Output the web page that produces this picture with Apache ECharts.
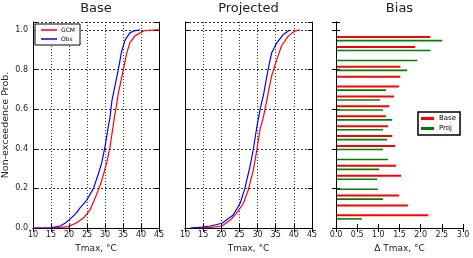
<!DOCTYPE html>
<html><head><meta charset="utf-8">
<script src="https://cdn.jsdelivr.net/npm/echarts@6/dist/echarts.min.js"></script>
<style>html,body{margin:0;padding:0;background:#fff}#c{width:473px;height:258px}</style>
</head><body><div id="c"></div>
<script>
// Empirical CDF readings [Tmax, probability]
const baseGCM = [[10,0],[16,0.001],[19.8,0.007],[22,0.025],[24,0.05],[25.8,0.09],[27.7,0.17],[29.1,0.24],[30.5,0.33],[31.4,0.41],[32.3,0.52],[32.6,0.56],[33.2,0.62],[33.7,0.68],[35.1,0.8],[36,0.88],[36.9,0.935],[38.3,0.97],[39.7,0.985],[41.1,0.997],[44.4,1.0],[45,1.0]];
const baseObs = [[10,0],[15,0.001],[17.5,0.01],[19,0.025],[20.3,0.045],[22,0.075],[23,0.1],[24.9,0.14],[26.8,0.2],[28.1,0.27],[29.1,0.33],[30,0.41],[30.9,0.51],[31.4,0.56],[31.9,0.64],[32.8,0.72],[33.7,0.8],[34.6,0.89],[35.6,0.95],[36.9,0.985],[38,0.995],[39.7,1.0]];
const projGCM = [[11.6,0],[17,0.003],[20.2,0.01],[22.5,0.04],[24.2,0.074],[26.1,0.125],[27.4,0.19],[28.8,0.29],[29.8,0.395],[30.7,0.5],[31.6,0.56],[32.5,0.64],[32.9,0.68],[33.9,0.77],[35.3,0.85],[36.6,0.92],[38.5,0.97],[40.3,0.995],[41.7,1.0]];
const projObs = [[11.6,0],[14.7,0.005],[17,0.01],[20.2,0.024],[23.3,0.066],[25.2,0.125],[26.5,0.2],[27.9,0.31],[28.8,0.395],[29.8,0.51],[30.7,0.6],[31.6,0.67],[32.9,0.8],[33.9,0.885],[35.3,0.935],[37.1,0.977],[38.9,1.0]];
// Bias per probability level
const probLevels = [0.05,0.10,0.15,0.20,0.25,0.30,0.35,0.40,0.45,0.50,0.55,0.60,0.65,0.70,0.75,0.80,0.85,0.90,0.95];
const biasBase = [2.18,1.70,1.49,null,1.54,1.42,null,1.40,1.33,1.23,1.18,1.26,1.37,1.49,1.52,1.52,null,1.87,2.23];
const biasProj = [0.61,null,1.11,0.99,0.97,1.02,1.23,1.11,1.21,1.11,1.33,1.11,1.04,1.18,null,1.68,1.92,2.23,2.51];
const titles = ['Base','Projected','Bias'];

const FONT = 'DejaVu Sans';
const TXT = '#222';
const grids = [
  {left:33, top:22, width:126, height:206},
  {left:185, top:22, width:127, height:206},
  {left:336, top:22, width:127, height:206}
];
const centers = grids.map(g => g.left + g.width/2);

function frameLine(){ return {show:true, lineStyle:{color:'#000', width:1}}; }
function tick(){ return {show:true, inside:true, length:4, lineStyle:{color:'#000', width:1}}; }
const fmt1 = v => (Math.abs(v*2 - Math.round(v*2)) < 1e-6) ? v.toFixed(1) : '';
const fmtP = v => (Math.abs(v*5 - Math.round(v*5)) < 1e-6) ? v.toFixed(1) : '';

const xAxes = [], yAxes = [];
[0,1,2].forEach(gi => {
  const isBias = gi === 2;
  const sc = isBias ? {min:0, max:3, interval:0.5} : {min:10, max:45, interval:5};
  xAxes.push(Object.assign({type:'value', gridIndex:gi, position:'bottom',
    axisLine:frameLine(), axisTick:tick(),
    axisLabel:{fontSize:8, color:TXT, fontFamily:FONT, margin:3, formatter: isBias ? fmt1 : (v => String(v))},
    splitLine: isBias ? {show:false} : {show:true, lineStyle:{color:'#000', width:0.8, type:[1,2]}},
    name: isBias ? 'Δ Tmax, °C' : 'Tmax, °C', nameLocation:'middle', nameGap:15,
    nameTextStyle:{fontSize:9, color:TXT, fontFamily:FONT}}, sc));
  xAxes.push(Object.assign({type:'value', gridIndex:gi, position:'top',
    axisLine:frameLine(), axisTick:tick(), axisLabel:{show:false}, splitLine:{show:false}}, sc));
  const ys = {min:0, max:1.04, interval:0.2};
  yAxes.push(Object.assign({type:'value', gridIndex:gi, position:'left',
    axisLine:frameLine(), axisTick:tick(),
    axisLabel:{show: gi===0, fontSize:8, color:TXT, fontFamily:FONT, margin:5, formatter:fmtP},
    splitLine: isBias ? {show:false} : {show:true, lineStyle:{color:'#000', width:0.8, type:[2,2]}},
    name: gi===0 ? 'Non-exceedence Prob.' : '', nameLocation:'middle', nameGap:22,
    nameTextStyle:{fontSize:9.5, color:TXT, fontFamily:FONT}}, ys));
  yAxes.push(Object.assign({type:'value', gridIndex:gi, position:'right',
    axisLine:frameLine(), axisTick:tick(), axisLabel:{show:false}, splitLine:{show:false}}, ys));
});

function lineSeries(name, data, color, gi){
  return {type:'line', name:name, data:data, xAxisIndex:gi*2, yAxisIndex:gi*2,
    showSymbol:false, symbol:'none', lineStyle:{color:color, width:1.2}, itemStyle:{color:color}, z:3};
}
function biasSeries(name, vals, color, off, h){
  const data = [];
  vals.forEach((v,i) => { if (v !== null) data.push([v, probLevels[i]]); });
  return {type:'custom', name:name, xAxisIndex:4, yAxisIndex:4, data:data,
    encode:{x:0, y:1}, itemStyle:{color:color},
    renderItem:function(params, api){
      const a = api.coord([0, api.value(1)]);
      const b = api.coord([api.value(0), api.value(1)]);
      return {type:'rect', shape:{x:a[0]+1, y:a[1]+off-h/2, width:b[0]-a[0]-1, height:h},
        style:{fill:color}};
    }};
}

const option = {
  animation:false,
  backgroundColor:'#fff',
  textStyle:{fontFamily:FONT},
  title: titles.map((t,i) => ({text:t, left:centers[i], top:2, textAlign:'center', padding:0,
    textStyle:{fontSize:13, fontWeight:'normal', color:TXT, fontFamily:FONT}})),
  grid: grids,
  xAxis: xAxes,
  yAxis: yAxes,
  legend: [
    {left:35, top:24, orient:'vertical', padding:[3,5,3,6], itemGap:3, itemWidth:16, itemHeight:1.5,
     backgroundColor:'#fff', borderColor:'#000', borderWidth:1, selectedMode:false,
     textStyle:{fontSize:6, color:'#000', fontFamily:FONT, padding:[0,0,0,-1]},
     data:[{name:'GCM', icon:'rect', itemStyle:{color:'#ff0000'}},{name:'Obs', icon:'rect', itemStyle:{color:'#0000ff'}}]},
    {left:418, top:112, orient:'vertical', padding:[3,4,3,3], itemGap:3, itemWidth:13, itemHeight:3,
     backgroundColor:'#fff', borderColor:'#000', borderWidth:1.5, selectedMode:false,
     textStyle:{fontSize:7, color:'#000', fontFamily:FONT},
     data:[{name:'Base', icon:'rect', itemStyle:{color:'#ff0000'}},{name:'Proj', icon:'rect', itemStyle:{color:'#008000'}}]}
  ],
  series: [
    lineSeries('GCM', baseGCM, '#ff0000', 0),
    lineSeries('Obs', baseObs, '#0000ff', 0),
    lineSeries('GCM', projGCM, '#ff0000', 1),
    lineSeries('Obs', projObs, '#0000ff', 1),
    biasSeries('Base', biasBase, '#ff0000', -2.8, 2),
    biasSeries('Proj', biasProj, '#008000', 0.8, 1.6)
  ]
};
const chart = echarts.init(document.getElementById('c'), null, {renderer:'canvas'});
chart.setOption(option);
</script></body></html>
